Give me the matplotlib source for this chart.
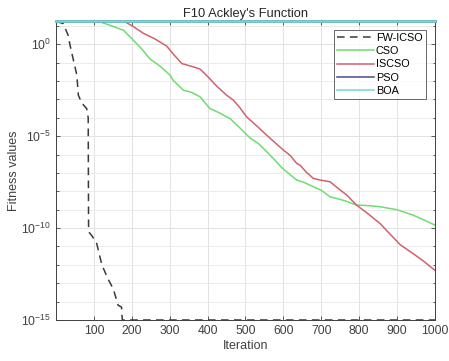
import numpy as np
import matplotlib.pyplot as plt
from matplotlib.ticker import NullFormatter, FixedLocator

plt.rcParams['font.family'] = ['Liberation Sans', 'DejaVu Sans']

# values (iteration, log10 of fitness)
fw_iter = [1, 19, 32, 37, 55, 59, 68, 81, 85, 86, 94, 107, 121, 138, 151, 164, 173, 175, 1000]
fw_log = [1.25, 1.12, 0.49, -0.05, -1.68, -2.77, -3.2, -3.5, -4.0, -10.2, -10.4, -10.8,
          -12.0, -12.8, -13.3, -14.2, -14.3, -15.0, -15.0]

cso_iter = [1, 107, 140, 178, 204, 226, 248, 275, 301, 309, 336, 358, 380, 406, 430, 450,
            459, 485, 512, 535, 556, 575, 595, 615, 635, 655, 679, 700, 723, 760, 793, 825,
            855, 899, 943, 970, 1000]
cso_log = [1.28, 1.27, 1.05, 0.76, 0.22, -0.25, -0.8, -1.2, -1.68, -1.96, -2.5, -2.62,
           -2.86, -3.5, -3.72, -3.95, -4.04, -4.55, -5.1, -5.42, -5.85, -6.25, -6.7, -7.05,
           -7.39, -7.52, -7.75, -7.95, -8.3, -8.5, -8.75, -8.78, -8.84, -9.0, -9.3, -9.55, -9.84]

iscso_iter = [1, 178, 205, 230, 260, 292, 310, 332, 362, 380, 400, 425, 450, 468, 485, 503,
              530, 556, 575, 600, 618, 635, 644, 660, 679, 700, 723, 745, 767, 793, 825, 855,
              880, 908, 943, 970, 1000]
iscso_log = [1.28, 1.27, 0.95, 0.6, 0.3, -0.1, -0.55, -1.05, -1.23, -1.35, -1.75, -2.3,
             -2.77, -3.04, -3.45, -3.95, -4.45, -4.95, -5.3, -5.76, -6.05, -6.48, -6.58, -6.95,
             -7.3, -7.4, -7.48, -7.85, -8.2, -8.75, -9.25, -9.75, -10.3, -10.9, -11.4, -11.8, -12.3]

pso_iter = [1, 1000]
pso_log = [1.28, 1.28]

boa_iter = [1, 1000]
boa_log = [1.28, 1.28]

series = [
    ("FW-ICSO", fw_iter, fw_log, "#3a3a3a", (0, (5, 3.5))),
    ("CSO", cso_iter, cso_log, "#6fdc6f", "-"),
    ("ISCSO", iscso_iter, iscso_log, "#d2606e", "-"),
    ("PSO", pso_iter, pso_log, "#4c4c8c", "-"),
    ("BOA", boa_iter, boa_log, "#72d8d2", "-"),
]

fig = plt.figure(figsize=(4.49, 3.61), dpi=100)
ax = fig.add_axes([0.1247, 0.1136, 0.8441, 0.8291])

for name, it, lg, col, ls in series:
    top = name in ("PSO", "BOA")
    ax.plot(it, 10.0 ** np.array(lg), color=col, linestyle=ls,
            linewidth=1.8 if top else 1.1, label=name,
            clip_on=False if (top or name == "FW-ICSO") else True,
            zorder=3 if top else 2)

ax.set_yscale("log")
ax.set_xlim(0, 1000)
ax.set_ylim(1e-15, 10 ** 1.28)

ax.xaxis.set_major_locator(FixedLocator(range(100, 1001, 100)))
ax.yaxis.set_major_locator(FixedLocator([1e-15, 1e-10, 1e-5, 1e0]))
ax.yaxis.set_minor_locator(FixedLocator([10.0 ** k for k in range(-15, 2)]))
ax.yaxis.set_minor_formatter(NullFormatter())

ax.grid(True, which="major", color="#e2e2e2", linewidth=0.7)
ax.grid(True, which="minor", axis="y", color="#e8e8e8", linewidth=0.6)
ax.set_axisbelow(True)

ax.tick_params(which="both", direction="in", top=True, right=True,
               labelsize=8.8, colors="#404040", length=3, width=0.6)
ax.tick_params(which="minor", length=1.8)
for s in ax.spines.values():
    s.set_color("#404040")
    s.set_linewidth(0.7)

ax.set_xlabel("Iteration", fontsize=9, color="#404040", labelpad=2)
ax.set_ylabel("Fitness values", fontsize=9, color="#404040", labelpad=1)
ax.set_title("F10 Ackley's Function", fontsize=9.3, color="#262626", pad=3)

leg = ax.legend(loc="upper right", bbox_to_anchor=(0.975, 0.97), fontsize=7.8,
                frameon=True, fancybox=False, edgecolor="#404040",
                handlelength=3.4, handletextpad=0.15, labelspacing=0.3,
                borderpad=0.3, borderaxespad=0)
leg.get_frame().set_linewidth(0.7)
for h in leg.get_lines():
    h.set_linewidth(1.1)

fig.savefig("out.png", dpi=100)
